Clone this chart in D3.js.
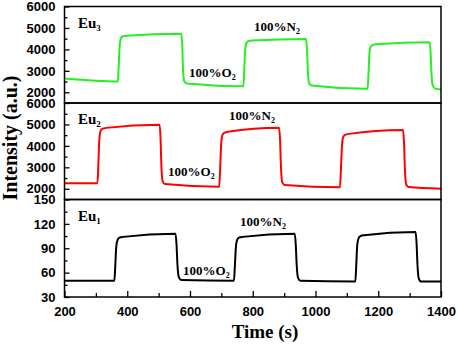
<!DOCTYPE html>
<html>
<head>
<meta charset="utf-8">
<script src="https://cdn.jsdelivr.net/npm/d3@7"></script>
<style>
  body { margin: 0; background: #fff; }
  svg { display: block; font-family: "Liberation Serif", "Times New Roman", serif; font-weight: bold; }
</style>
</head>
<body>
<svg width="457" height="345"></svg>
<script>
// time axis
const xTicks = [200, 400, 600, 800, 1000, 1200, 1400]
const xMinor = [300, 500, 700, 900, 1100, 1300]

// Eu3 (green, top panel)
const eu3Time  = [200, 370, 373, 376, 380, 386, 398, 572, 575, 578, 582, 590, 770, 773, 776, 780, 786, 798, 970, 973, 976, 980, 988, 1166, 1169, 1172, 1176, 1182, 1194, 1364, 1367, 1370, 1374, 1382, 1400]
const eu3Value = [2640, 2500, 3300, 4200, 4520, 4610, 4640, 4730, 4300, 3000, 2500, 2410, 2280, 3100, 4000, 4300, 4380, 4410, 4490, 4000, 2900, 2400, 2320, 2160, 2900, 3800, 4120, 4200, 4240, 4330, 3800, 2800, 2300, 2170, 2130]

// Eu2 (red, middle panel)
const eu2Time  = [200, 305, 308, 311, 315, 321, 333, 503, 506, 509, 513, 520, 693, 696, 699, 703, 709, 721, 884, 887, 890, 894, 902, 1078, 1081, 1084, 1088, 1094, 1106, 1279, 1282, 1285, 1289, 1297, 1400]
const eu2Value = [2260, 2260, 3200, 4300, 4700, 4800, 4840, 4990, 4400, 3000, 2350, 2220, 2100, 2900, 4000, 4500, 4610, 4660, 4850, 4300, 3000, 2300, 2180, 2070, 2900, 3900, 4400, 4510, 4560, 4740, 4200, 2900, 2200, 2080, 2005]

// Eu1 (black, bottom panel)
const eu1Time  = [200, 359, 362, 365, 369, 375, 387, 554, 557, 560, 564, 572, 740, 743, 746, 750, 756, 768, 934, 937, 940, 944, 952, 1127, 1130, 1133, 1137, 1143, 1155, 1319, 1322, 1325, 1329, 1337, 1400]
const eu1Value = [50, 50, 70, 92, 100, 103, 104, 108, 95, 70, 55, 51, 50, 68, 90, 100, 103, 104, 108, 95, 70, 54, 50, 49, 70, 94, 102, 105, 106, 110, 97, 70, 53, 49, 49]

// y ticks per panel
const eu3Ticks = [2000, 3000, 4000, 5000, 6000]
const eu2Ticks = [2000, 3000, 4000, 5000, 6000]
const eu1Ticks = [30, 60, 90, 120, 150]

const svg = d3.select('svg')
const xScale = d3.scaleLinear().domain([200, 1400]).range([64.5, 441])
const fmt = d3.format('d')

const panels = [
  { name: '3', time: eu3Time, value: eu3Value, ticks: eu3Ticks, domain: [1500, 6000], top: 6.5, bottom: 103, color: '#22f022',
    labels: [{ t: '100%O', x: 189, y: 77 }, { t: '100%N', x: 254, y: 31 }] },
  { name: '2', time: eu2Time, value: eu2Value, ticks: eu2Ticks, domain: [1500, 6000], top: 103, bottom: 199.5, color: '#ff0000',
    labels: [{ t: '100%O', x: 168, y: 176 }, { t: '100%N', x: 229, y: 120 }] },
  { name: '1', time: eu1Time, value: eu1Value, ticks: eu1Ticks, domain: [30, 150], top: 199.5, bottom: 297, color: '#000000',
    labels: [{ t: '100%O', x: 183, y: 275 }, { t: '100%N', x: 240, y: 226 }] }
]

panels.forEach(p => {
  const y = d3.scaleLinear().domain(p.domain).range([p.bottom, p.top])
  const step = p.ticks[1] - p.ticks[0]
  const minor = p.ticks.slice(0, -1).map(v => v + step / 2)

  const yAxis = d3.axisLeft(y).tickValues(p.ticks).tickFormat(fmt).tickSize(-5).tickPadding(9)
  const yAxisG = svg.append('g').attr('transform', `translate(${xScale.range()[0]},0)`).call(yAxis)
  yAxisG.select('.domain').remove()
  yAxisG.selectAll('text').attr('font-size', 13).attr('font-family', null).attr('fill', '#000')
  yAxisG.selectAll('.tick line').attr('stroke-width', 1.3)

  const yMinorG = svg.append('g').attr('transform', `translate(${xScale.range()[0]},0)`)
    .call(d3.axisLeft(y).tickValues(minor).tickSize(-3).tickFormat(''))
  yMinorG.select('.domain').remove()
  yMinorG.selectAll('.tick line').attr('stroke-width', 1.3)

  const line = d3.line()
    .x((d, i) => xScale(p.time[i]))
    .y(d => y(d))
    .curve(d3.curveMonotoneX)
  svg.append('path')
    .attr('d', line(p.value))
    .attr('fill', 'none')
    .attr('stroke', p.color)
    .attr('stroke-width', 2)

  // panel name
  const nm = svg.append('text').attr('x', 78).attr('y', p.top + 21).attr('font-size', 15)
  nm.append('tspan').text('Eu')
  nm.append('tspan').attr('font-size', 9).attr('dy', 3).text(p.name)

  p.labels.forEach(l => {
    const t = svg.append('text').attr('x', l.x).attr('y', l.y).attr('font-size', 13)
    t.append('tspan').text(l.t)
    t.append('tspan').attr('font-size', 8).attr('dy', 3).text('2')
  })

  svg.append('rect')
    .attr('x', xScale.range()[0]).attr('y', p.top)
    .attr('width', xScale.range()[1] - xScale.range()[0]).attr('height', p.bottom - p.top)
    .attr('fill', 'none').attr('stroke', '#000').attr('stroke-width', 1.5)
})

const xAxis = d3.axisBottom(xScale).tickValues(xTicks).tickFormat(fmt).tickSize(-6).tickPadding(10)
const xAxisG = svg.append('g').attr('transform', 'translate(0,297)').call(xAxis)
xAxisG.select('.domain').remove()
xAxisG.selectAll('text').attr('font-size', 13).attr('font-family', null).attr('fill', '#000')
xAxisG.selectAll('.tick line').attr('stroke-width', 1.3)
const xMinorG = svg.append('g').attr('transform', 'translate(0,297)')
  .call(d3.axisBottom(xScale).tickValues(xMinor).tickSize(-4).tickFormat(''))
xMinorG.select('.domain').remove()
xMinorG.selectAll('.tick line').attr('stroke-width', 1.3)

svg.append('text')
  .attr('x', 265).attr('y', 338)
  .attr('text-anchor', 'middle')
  .attr('font-size', 19)
  .text('Time (s)')

svg.append('text')
  .attr('transform', 'translate(17,138) rotate(-90)')
  .attr('text-anchor', 'middle')
  .attr('font-size', 20)
  .text('Intensity (a.u.)')
</script>
</body>
</html>
